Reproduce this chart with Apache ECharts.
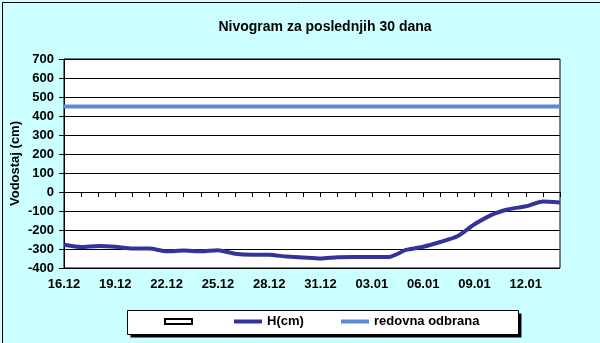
<!DOCTYPE html>
<html>
<head>
<meta charset="utf-8">
<script src="https://cdn.jsdelivr.net/npm/echarts@6/dist/echarts.min.js"></script>
<style>
html, body { margin: 0; padding: 0; background: #CCFFFF; }
#chart { width: 600px; height: 343px; }
</style>
</head>
<body>
<div id="chart"></div>
<script>
// datumi (30 dana)
var dani = ['16.12', '17.12', '18.12', '19.12', '20.12', '21.12', '22.12', '23.12', '24.12', '25.12',
    '26.12', '27.12', '28.12', '29.12', '30.12', '31.12', '01.01', '02.01', '03.01', '04.01',
    '05.01', '06.01', '07.01', '08.01', '09.01', '10.01', '11.01', '12.01', '13.01', '14.01'];
// vodostaj H(cm)
var vodostaj = [-278, -290, -284, -288, -298, -298, -312, -308, -312, -306,
    -325, -330, -330, -340, -345, -350, -343, -342, -342, -342,
    -305, -288, -263, -233, -170, -120, -91, -75, -50, -55];
// redovna odbrana
var redovna = [450, 450, 450, 450, 450, 450, 450, 450, 450, 450,
    450, 450, 450, 450, 450, 450, 450, 450, 450, 450,
    450, 450, 450, 450, 450, 450, 450, 450, 450, 450];

var myChart = echarts.init(document.getElementById('chart'));

var fnt = { color: '#000', fontFamily: 'Liberation Sans, Arial', fontWeight: 'bold', fontSize: 13 };

var option = {
    backgroundColor: '#CCFFFF',
    animation: false,
    title: {
        text: 'Nivogram za poslednjih 30 dana',
        left: 320,
        textAlign: 'center',
        top: 15,
        textStyle: Object.assign({}, fnt, { fontSize: 14 })
    },
    graphic: [
        // okvir cijele slike
        { type: 'rect', left: 0, top: 0, z: 100, silent: true,
          shape: { x: 0.5, y: 0.5, width: 598, height: 341 },
          style: { fill: 'none', stroke: '#000', lineWidth: 1 } },
        // okvir legende sa sjenkom
        { type: 'rect', z: 1, silent: true,
          shape: { x: 130.5, y: 313.5, width: 391, height: 24 },
          style: { fill: '#000' } },
        { type: 'rect', z: 2, silent: true,
          shape: { x: 127.5, y: 310.5, width: 391, height: 24 },
          style: { fill: '#fff', stroke: '#000', lineWidth: 1 } }
    ],
    legend: [{
        left: 164, top: 315, padding: 0, selectedMode: false, z: 10,
        itemWidth: 27, itemHeight: 5,
        textStyle: fnt,
        data: [{ name: ' ', icon: 'rect' }]
    }, {
        left: 234, top: 315, padding: 0, selectedMode: false, z: 10,
        itemWidth: 28, itemHeight: 4, itemGap: 0,
        textStyle: fnt,
        data: [{ name: 'H(cm)', icon: 'rect' }]
    }, {
        left: 341, top: 315, padding: 0, selectedMode: false, z: 10,
        itemWidth: 28, itemHeight: 4,
        textStyle: fnt,
        data: [{ name: 'redovna odbrana', icon: 'rect' }]
    }],
    grid: {
        left: 64,
        right: 40,
        top: 59,
        bottom: 75,
        outerBoundsMode: 'none',
        show: true,
        backgroundColor: '#fff',
        borderColor: '#000',
        borderWidth: 1
    },
    xAxis: {
        type: 'category',
        boundaryGap: false,
        data: dani,
        axisLine: { lineStyle: { color: '#000', width: 1 } },
        axisTick: { show: true, interval: 0, length: 5, lineStyle: { color: '#000' } },
        axisLabel: Object.assign({ interval: 2, margin: 10 }, fnt),
        splitLine: { show: false }
    },
    yAxis: {
        type: 'value',
        min: -400,
        max: 700,
        interval: 100,
        name: 'Vodostaj (cm)',
        nameLocation: 'middle',
        nameGap: 42,
        nameMoveOverlap: false,
        nameRotate: 90,
        nameTextStyle: fnt,
        axisLine: { show: true, lineStyle: { color: '#000', width: 1 } },
        axisTick: { show: true, length: 5, lineStyle: { color: '#000' } },
        axisLabel: Object.assign({ margin: 10 }, fnt),
        splitLine: { lineStyle: { color: '#000', width: 1 } }
    },
    series: [{
        name: ' ',
        type: 'bar',
        data: [],
        itemStyle: { color: '#fff', borderColor: '#000', borderWidth: 1 }
    }, {
        name: 'H(cm)',
        type: 'line',
        data: vodostaj,
        smooth: 0.2,
        showSymbol: false,
        symbol: 'none',
        color: '#333399',
        lineStyle: { color: '#333399', width: 4 },
        z: 5
    }, {
        name: 'redovna odbrana',
        type: 'line',
        data: redovna,
        showSymbol: false,
        symbol: 'none',
        color: '#5A8CD2',
        lineStyle: { color: '#5A8CD2', width: 4 },
        z: 4
    }]
};

myChart.setOption(option);
window.addEventListener('resize', function () {
    myChart.resize();
});
</script>
</body>
</html>
